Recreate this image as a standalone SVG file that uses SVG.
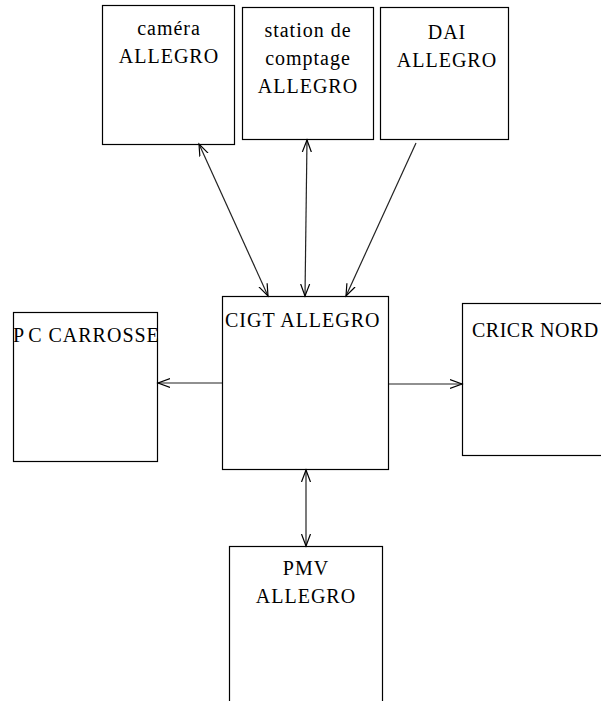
<svg xmlns="http://www.w3.org/2000/svg" width="601" height="701" viewBox="0 0 601 701">
<style>
.box{fill:#fff;stroke:#000;stroke-width:1.2}
.con{stroke:#222;stroke-width:1.2;fill:none}
</style>
<defs>
<marker id="ah" markerUnits="userSpaceOnUse" markerWidth="14" markerHeight="12" refX="12" refY="5" orient="auto-start-reverse" viewBox="0 0 14 10">
<path d="M0,0.5 L12,5 L0,9.5" fill="none" stroke="#000" stroke-width="1.2"/>
</marker>
</defs>
<rect width="601" height="701" fill="#fff"/>
<g font-family="Liberation Serif, Times New Roman, serif" font-size="20" fill="#000" letter-spacing="1">
<g id="camera">
<rect class="box" x="102.5" y="5.5" width="132" height="139"/>
<text text-anchor="middle" x="169" y="35">caméra</text>
<text text-anchor="middle" x="169" y="63">ALLEGRO</text>
</g>
<g id="station">
<rect class="box" x="242.5" y="7.5" width="131" height="132"/>
<text text-anchor="middle" x="308" y="37">station de</text>
<text text-anchor="middle" x="308" y="65">comptage</text>
<text text-anchor="middle" x="308" y="93">ALLEGRO</text>
</g>
<g id="dai">
<rect class="box" x="380.5" y="7.5" width="128" height="132"/>
<text text-anchor="middle" x="447" y="39">DAI</text>
<text text-anchor="middle" x="447" y="67">ALLEGRO</text>
</g>
<g id="cigt">
<rect class="box" x="222.5" y="296.5" width="166" height="173"/>
<text x="225" y="327">CIGT ALLEGRO</text>
</g>
<g id="pc">
<rect class="box" x="13.5" y="312.5" width="144" height="149"/>
<text x="13" y="342">P<tspan dx="3">C</tspan> CARROSSE</text>
</g>
<g id="cricr">
<rect class="box" x="462.5" y="303.5" width="150" height="152"/>
<text x="472" y="337" letter-spacing="0.5">CRICR NORD</text>
</g>
<g id="pmv">
<rect class="box" x="229.5" y="546.5" width="153" height="170"/>
<text text-anchor="middle" x="306" y="575">PMV</text>
<text text-anchor="middle" x="306" y="603">ALLEGRO</text>
</g>
</g>
<g id="connectors">
<line class="con" x1="199" y1="144" x2="268" y2="296" marker-start="url(#ah)" marker-end="url(#ah)"/>
<line class="con" x1="307" y1="140" x2="305" y2="296" marker-start="url(#ah)" marker-end="url(#ah)"/>
<line class="con" x1="416" y1="143" x2="346" y2="296" marker-end="url(#ah)"/>
<line class="con" x1="222" y1="383" x2="158" y2="383" marker-end="url(#ah)"/>
<line class="con" x1="389" y1="384" x2="462" y2="384" marker-end="url(#ah)"/>
<line class="con" x1="306" y1="470" x2="306" y2="546" marker-start="url(#ah)" marker-end="url(#ah)"/>
</g>
</svg>
